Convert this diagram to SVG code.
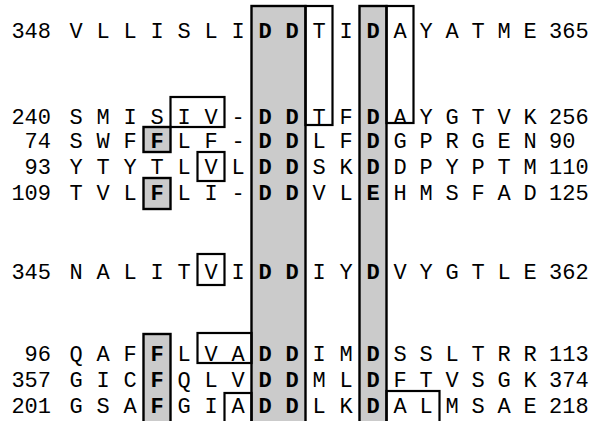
<svg xmlns="http://www.w3.org/2000/svg" width="596" height="421" viewBox="0 0 596 421">
<style>
.t{font-family:"Liberation Mono","DejaVu Sans Mono",monospace;font-size:22px;fill:#000;text-anchor:middle}
.b{font-weight:bold}
.n{font-family:"Liberation Mono","DejaVu Sans Mono",monospace;font-size:22px;fill:#000;text-anchor:end}
.e{font-family:"Liberation Mono","DejaVu Sans Mono",monospace;font-size:22px;fill:#000;text-anchor:start}
.g{fill:#cbcbcb;stroke:#000;stroke-width:2.4}
.w{fill:none;stroke:#000;stroke-width:2.2}
</style>
<rect width="596" height="421" fill="#fff"/>
<g id="shading">
<rect class="g" x="251.5" y="6" width="54" height="430"/>
<rect class="g" x="359.5" y="6" width="27" height="430"/>
<rect class="g" x="143.5" y="127" width="27" height="25"/>
<rect class="g" x="143.5" y="178" width="27" height="31"/>
<rect class="g" x="143.5" y="334" width="27" height="100"/>
</g>
<g id="boxes">
<rect class="w" x="305.5" y="6" width="27" height="119"/>
<rect class="w" x="386.5" y="6" width="27" height="117"/>
<rect class="w" x="170.5" y="97" width="54" height="30"/>
<rect class="w" x="197.5" y="152" width="27" height="29"/>
<rect class="w" x="197.5" y="254" width="27" height="31"/>
<rect class="w" x="197.5" y="333" width="54" height="30"/>
<rect class="w" x="224.5" y="393" width="27" height="40"/>
<rect class="w" x="386.5" y="391" width="53" height="42"/>
</g>
<g id="row348">
<text class="n" x="51" y="38">348</text>
<text class="t" y="38"><tspan x="76 103 130 157 184 211 238">VLLISLI</tspan><tspan class="b" x="265 292">DD</tspan><tspan x="319 346">TI</tspan><tspan class="b" x="373">D</tspan><tspan x="400 426 452 478 504 530">AYATME</tspan></text>
<text class="e" x="549" y="38">365</text>
</g>
<g id="row240">
<text class="n" x="51" y="124">240</text>
<text class="t" y="124"><tspan x="76 103 130 157 184 211 238">SMISIV-</tspan><tspan class="b" x="265 292">DD</tspan><tspan x="319 346">TF</tspan><tspan class="b" x="373">D</tspan><tspan x="400 426 452 478 504 530">AYGTVK</tspan></text>
<text class="e" x="549" y="124">256</text>
</g>
<g id="row74">
<text class="n" x="51" y="148">74</text>
<text class="t" y="148"><tspan x="76 103 130">SWF</tspan><tspan class="b" x="157">F</tspan><tspan x="184 211 238">LF-</tspan><tspan class="b" x="265 292">DD</tspan><tspan x="319 346">LF</tspan><tspan class="b" x="373">D</tspan><tspan x="400 426 452 478 504 530">GPRGEN</tspan></text>
<text class="e" x="549" y="148">90</text>
</g>
<g id="row93">
<text class="n" x="51" y="174">93</text>
<text class="t" y="174"><tspan x="76 103 130 157 184 211 238">YTYTLVL</tspan><tspan class="b" x="265 292">DD</tspan><tspan x="319 346">SK</tspan><tspan class="b" x="373">D</tspan><tspan x="400 426 452 478 504 530">DPYPTM</tspan></text>
<text class="e" x="549" y="174">110</text>
</g>
<g id="row109">
<text class="n" x="51" y="200">109</text>
<text class="t" y="200"><tspan x="76 103 130">TVL</tspan><tspan class="b" x="157">F</tspan><tspan x="184 211 238">LI-</tspan><tspan class="b" x="265 292">DD</tspan><tspan x="319 346">VL</tspan><tspan class="b" x="373">E</tspan><tspan x="400 426 452 478 504 530">HMSFAD</tspan></text>
<text class="e" x="549" y="200">125</text>
</g>
<g id="row345">
<text class="n" x="51" y="279">345</text>
<text class="t" y="279"><tspan x="76 103 130 157 184 211 238">NALITVI</tspan><tspan class="b" x="265 292">DD</tspan><tspan x="319 346">IY</tspan><tspan class="b" x="373">D</tspan><tspan x="400 426 452 478 504 530">VYGTLE</tspan></text>
<text class="e" x="549" y="279">362</text>
</g>
<g id="row96">
<text class="n" x="51" y="361">96</text>
<text class="t" y="361"><tspan x="76 103 130">QAF</tspan><tspan class="b" x="157">F</tspan><tspan x="184 211 238">LVA</tspan><tspan class="b" x="265 292">DD</tspan><tspan x="319 346">IM</tspan><tspan class="b" x="373">D</tspan><tspan x="400 426 452 478 504 530">SSLTRR</tspan></text>
<text class="e" x="549" y="361">113</text>
</g>
<g id="row357">
<text class="n" x="51" y="387">357</text>
<text class="t" y="387"><tspan x="76 103 130">GIC</tspan><tspan class="b" x="157">F</tspan><tspan x="184 211 238">QLV</tspan><tspan class="b" x="265 292">DD</tspan><tspan x="319 346">ML</tspan><tspan class="b" x="373">D</tspan><tspan x="400 426 452 478 504 530">FTVSGK</tspan></text>
<text class="e" x="549" y="387">374</text>
</g>
<g id="row201">
<text class="n" x="51" y="413">201</text>
<text class="t" y="413"><tspan x="76 103 130">GSA</tspan><tspan class="b" x="157">F</tspan><tspan x="184 211 238">GIA</tspan><tspan class="b" x="265 292">DD</tspan><tspan x="319 346">LK</tspan><tspan class="b" x="373">D</tspan><tspan x="400 426 452 478 504 530">ALMSAE</tspan></text>
<text class="e" x="549" y="413">218</text>
</g>
</svg>
